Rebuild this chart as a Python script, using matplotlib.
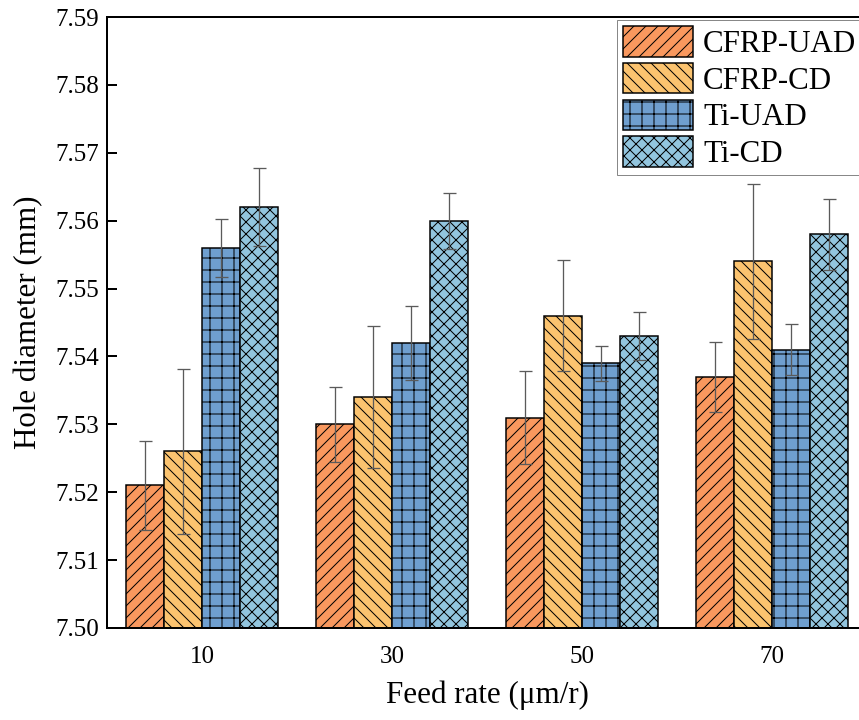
import numpy as np
import matplotlib
matplotlib.use("Agg")
import matplotlib.pyplot as plt

# feed rate groups and series
feed_rates = [10, 30, 50, 70]
series_names = ["CFRP-UAD", "CFRP-CD", "Ti-UAD", "Ti-CD"]

cfrp_uad = [7.521, 7.530, 7.531, 7.537]
cfrp_cd = [7.526, 7.534, 7.546, 7.554]
ti_uad = [7.556, 7.542, 7.539, 7.541]
ti_cd = [7.562, 7.560, 7.543, 7.558]

cfrp_uad_err = [0.0066, 0.0055, 0.0068, 0.0052]
cfrp_cd_err = [0.0122, 0.0105, 0.0082, 0.0114]
ti_uad_err = [0.0043, 0.0055, 0.0026, 0.0038]
ti_cd_err = [0.0057, 0.0041, 0.0035, 0.0052]

yticks = [7.50, 7.51, 7.52, 7.53, 7.54, 7.55, 7.56, 7.57, 7.58, 7.59]

colors = ["#F9985E", "#FBC36F", "#6F9FCF", "#92C5DE"]
hatches = ["//", "\\\\", "+", "xx"]

plt.rcParams["font.family"] = ["Liberation Serif", "DejaVu Serif"]
plt.rcParams["hatch.linewidth"] = 1.0
plt.rcParams["hatch.color"] = "black"

DPI = 72
fig = plt.figure(figsize=(859 / DPI, 720 / DPI), dpi=DPI)
ax = fig.add_axes([107 / 859, 92 / 720, 760 / 859, 611 / 720])

values = [cfrp_uad, cfrp_cd, ti_uad, ti_cd]
errors = [cfrp_uad_err, cfrp_cd_err, ti_uad_err, ti_cd_err]
width = 4.0
x = np.array(feed_rates, dtype=float)

for i, (name, vals, errs) in enumerate(zip(series_names, values, errors)):
    pos = x + (i - 1.5) * width
    ax.bar(pos, np.array(vals) - 7.50, width, bottom=7.50, color=colors[i],
           edgecolor="black", linewidth=1.5, hatch=hatches[i], label=name, zorder=2)
    ax.errorbar(pos, vals, yerr=errs, fmt="none", ecolor="#5a5a5a",
                elinewidth=1.3, capsize=6.5, capthick=1.3, zorder=3)

ax.set_xlim(0, 80)
ax.set_ylim(7.50, 7.59)
ax.set_xticks(feed_rates)
ax.set_xticklabels([str(v) for v in feed_rates])
ax.set_yticks(yticks)
ax.set_yticklabels([f"{v:.2f}" for v in yticks])

ax.tick_params(axis="y", direction="in", length=10, width=2, labelsize=25, pad=8)
ax.tick_params(axis="x", direction="in", length=0, labelsize=25, pad=18)
for side in ["left", "bottom", "top", "right"]:
    ax.spines[side].set_linewidth(2)

ax.set_xlabel("Feed rate (\u03bcm/r)", fontsize=31, labelpad=13)
ax.set_ylabel("Hole diameter (mm)", fontsize=31, labelpad=12)

leg = ax.legend(loc="upper left", bbox_to_anchor=(0.671, 0.995), borderaxespad=0,
                fontsize=31, handlelength=2.26, handleheight=1.13, labelspacing=0.13,
                handletextpad=0.32, borderpad=0.2, fancybox=False, framealpha=1)
leg.get_frame().set_edgecolor("#888888")
leg.get_frame().set_linewidth(1.0)

fig.savefig("out.png", dpi=DPI)
